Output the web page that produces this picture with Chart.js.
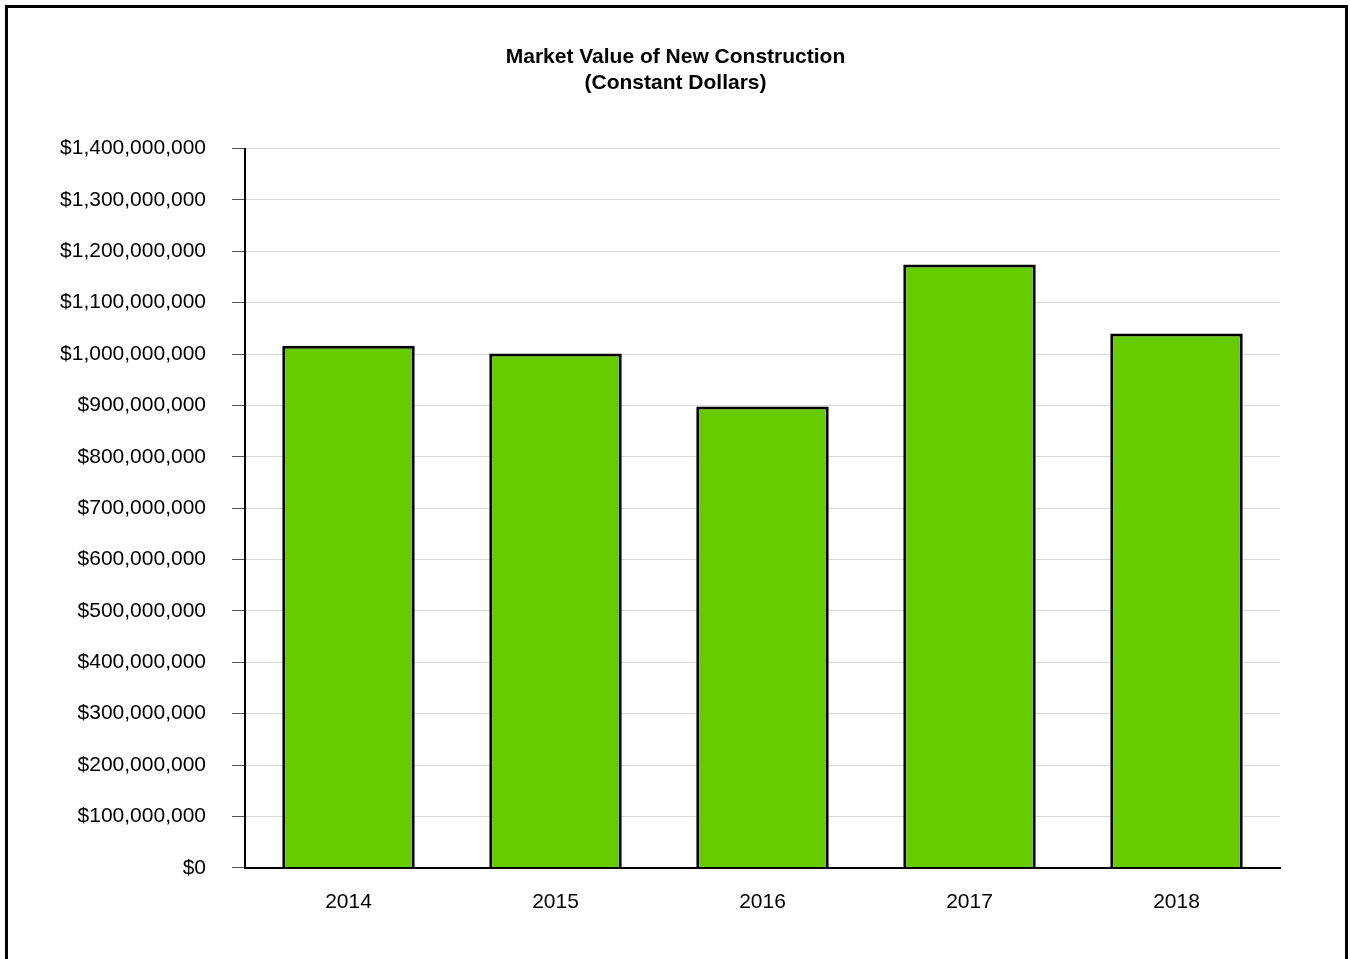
<!DOCTYPE html>
<html>
<head>
<meta charset="utf-8">
<script src="https://cdn.jsdelivr.net/npm/chart.js@4"></script>
<style>
  html, body { margin: 0; padding: 0; background: #fff; overflow: hidden; }
  #frame { position: absolute; left: 5px; top: 5px; width: 1337px; height: 1000px; border: 3px solid #000; }
  #wrap { position: absolute; left: 0; top: 0; width: 1350px; height: 959px; }
</style>
</head>
<body>
<div id="frame"></div>
<div id="wrap"><canvas id="chart" width="1350" height="959"></canvas></div>
<script>
// data
const years = ["2014", "2015", "2016", "2017", "2018"];
const marketValue = [1016000000, 1001000000, 898000000, 1174000000, 1040000000];
const yMax = 1400000000;
const yStep = 100000000;

Chart.defaults.font.family = "Arial, 'Liberation Sans', sans-serif";
Chart.defaults.color = "#000";

// nudge the title so it is centred on the whole page, not the padded box
const centerTitle = {
    id: "centerTitle",
    afterLayout(chart) {
        if (chart.titleBlock) chart.titleBlock.left += 13;
    }
};

const ctx = document.getElementById("chart").getContext("2d");

const chart = new Chart(ctx, {
    type: "bar",
    data: {
        labels: years,
        datasets: [{
            label: "Market Value",
            data: marketValue,
            backgroundColor: "#66cc00",
            borderColor: "#000",
            borderWidth: 3,
            barPercentage: 0.64,
            categoryPercentage: 1
        }]
    },
    options: {
        responsive: false,
        maintainAspectRatio: false,
        animation: false,
        layout: {
            padding: { left: 58, right: 70, top: 0, bottom: 30 }
        },
        plugins: {
            legend: { display: false },
            tooltip: { enabled: false },
            title: {
                display: true,
                text: ["Market Value of New Construction", "(Constant Dollars)"],
                font: { size: 21, weight: "bold", lineHeight: 1.25 },
                color: "#000",
                padding: { top: 44, bottom: 52 }
            }
        },
        scales: {
            x: {
                grid: { display: false },
                border: { display: true, color: "#000", width: 2 },
                ticks: { font: { size: 21 }, padding: 14, color: "#000" }
            },
            y: {
                min: 0,
                max: yMax,
                afterFit: s => { s.width = 187; },
                grid: {
                    color: "#d9d9d9",
                    lineWidth: 1,
                    tickLength: 13,
                    tickColor: "#555"
                },
                border: { display: true, color: "#000", width: 2 },
                ticks: {
                    stepSize: yStep,
                    font: { size: 21 },
                    padding: 26,
                    color: "#000",
                    callback: v => "$" + v.toLocaleString("en-US")
                }
            }
        }
    },
    plugins: [centerTitle]
});
</script>
</body>
</html>
